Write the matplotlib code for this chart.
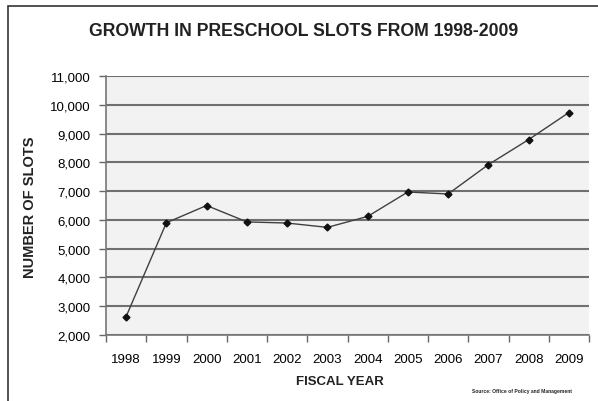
import numpy as np
import matplotlib.pyplot as plt
from matplotlib.patches import Rectangle

plt.rcParams['font.family'] = ['Liberation Sans', 'DejaVu Sans']

years = ['1998', '1999', '2000', '2001', '2002', '2003', '2004', '2005', '2006', '2007', '2008', '2009']
slots = [2640, 5900, 6500, 5930, 5890, 5740, 6120, 6970, 6900, 7920, 8790, 9730]
yticks = [2000, 3000, 4000, 5000, 6000, 7000, 8000, 9000, 10000, 11000]

W, H = 598, 402
fig = plt.figure(figsize=(W / 100, H / 100), dpi=100)
fig.patch.set_facecolor('white')

# outer frame, runs off the right and bottom edges
fig.add_artist(Rectangle((8 / W, -0.1), 1.2, 1.1 - 7 / H, transform=fig.transFigure,
                         fill=False, edgecolor='#333333', linewidth=1.2))

ax = fig.add_axes([106 / W, 1 - 336 / H, (589 - 106) / W, (336 - 77) / H])
ax.set_facecolor('#f2f2f2')

x = np.arange(len(years))
ax.plot(x, slots, color='#404040', linewidth=1.0, marker='D', markersize=3.5,
        markerfacecolor='#111111', markeredgecolor='#111111', zorder=3)

ax.set_xlim(-0.5, len(years) - 0.5)
ax.set_ylim(2000, 11000)
ax.set_yticks(yticks)
ax.set_yticklabels([f'{v:,}' for v in yticks], fontsize=9.5)
ax.set_xticks(x)
ax.set_xticklabels(years, fontsize=9.5)
ax.set_xticks(np.arange(len(years) + 1) - 0.5, minor=True)
ax.tick_params(axis='x', which='major', length=0, pad=13)
ax.tick_params(axis='x', which='minor', length=5, color='#666666', width=1)
ax.tick_params(axis='y', length=5, color='#666666', width=1, pad=6)

ax.grid(axis='y', color='#707070', linewidth=1.5)
ax.set_axisbelow(True)
for s in ['top', 'right']:
    ax.spines[s].set_visible(False)
for s in ['left', 'bottom']:
    ax.spines[s].set_color('#777777')
    ax.spines[s].set_linewidth(1.2)

fig.text(304 / W, 1 - 31 / H, 'GROWTH IN PRESCHOOL SLOTS FROM 1998-2009',
         ha='center', va='center', fontsize=12.7, fontweight='bold', color='#222222')
fig.text(30 / W, 1 - 207 / H, 'NUMBER OF SLOTS', rotation=90, ha='center', va='center',
         fontsize=10.5, fontweight='bold', color='#222222')
fig.text(340 / W, 1 - 382 / H, 'FISCAL YEAR', ha='center', va='center',
         fontsize=9.5, fontweight='bold', color='#222222')
fig.text(522 / W, 1 - 392 / H, 'Source: Office of Policy and Management', ha='center', va='center',
         fontsize=3.6, fontweight='bold', color='#222222')

fig.savefig('out.png', dpi=100)
